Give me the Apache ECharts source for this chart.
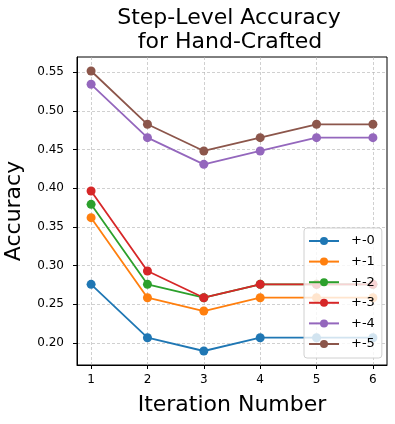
<!DOCTYPE html>
<html>
<head>
<meta charset="utf-8">
<script src="https://cdn.jsdelivr.net/npm/echarts@6/dist/echarts.min.js"></script>
<style>
  html, body { margin: 0; padding: 0; background: #fff; }
  #chart { width: 395px; height: 424px; }
</style>
</head>
<body>
<div id="chart"></div>
<script>
// iteration numbers
const iterations = [1, 2, 3, 4, 5, 6]
const xTicks = [1, 2, 3, 4, 5, 6]
const yTicks = [0.20, 0.25, 0.30, 0.35, 0.40, 0.45, 0.50, 0.55]

// accuracy per tolerance
const acc0 = [0.2759, 0.2069, 0.1897, 0.2069, 0.2069, 0.2069]
const acc1 = [0.3621, 0.2586, 0.2414, 0.2586, 0.2586, 0.2586]
const acc2 = [0.3793, 0.2759, 0.2586, 0.2759, 0.2759, 0.2759]
const acc3 = [0.3966, 0.2931, 0.2586, 0.2759, 0.2759, 0.2759]
const acc4 = [0.5345, 0.4655, 0.4310, 0.4483, 0.4655, 0.4655]
const acc5 = [0.5517, 0.4828, 0.4483, 0.4655, 0.4828, 0.4828]

const seriesNames = ['+-0', '+-1', '+-2', '+-3', '+-4', '+-5']
const seriesData = [acc0, acc1, acc2, acc3, acc4, acc5]
const colors = ['#1f77b4', '#ff7f0e', '#2ca02c', '#d62728', '#9467bd', '#8c564b']

const font = 'DejaVu Sans'
const chart = echarts.init(document.getElementById('chart'))

const gridLine = { show: true, lineStyle: { color: '#b0b0b0', type: [3, 2], width: 0.6 } }

const option = {
  animation: false,
  color: colors,
  textStyle: { fontFamily: font },
  grid: {
    left: 77, top: 57, right: 8, bottom: 59,
    outerBoundsMode: 'none',
    containLabel: false,
    show: true, borderColor: '#000', borderWidth: 1
  },
  graphic: [
    {
      type: 'text', x: 229, y: 18,
      style: { text: 'Step-Level Accuracy', font: '22px "DejaVu Sans"', fill: '#000', align: 'center', verticalAlign: 'middle' }
    },
    {
      type: 'text', x: 230, y: 42,
      style: { text: 'for Hand-Crafted', font: '22px "DejaVu Sans"', fill: '#000', align: 'center', verticalAlign: 'middle' }
    }
  ],
  legend: {
    orient: 'vertical',
    left: 304, top: 228,
    padding: [6.5, 7, 7.5, 4],
    itemWidth: 30, itemHeight: 10,
    itemGap: 7.6,
    backgroundColor: 'rgba(255,255,255,0.8)',
    borderColor: '#d0d0d0', borderWidth: 1, borderRadius: 3,
    textStyle: { fontFamily: font, fontSize: 13, color: '#000', padding: [0, 0, 0, 7] },
    data: seriesNames,
    z: 10
  },
  xAxis: {
    type: 'value',
    min: 0.75, max: 6.25,
    name: 'Iteration Number',
    nameLocation: 'middle',
    nameGap: 29,
    nameTextStyle: { fontFamily: font, fontSize: 22, color: '#000' },
    axisLine: { show: true, onZero: false, lineStyle: { color: '#000', width: 1 } },
    axisTick: { show: true, length: 4, customValues: xTicks, lineStyle: { color: '#000' } },
    axisLabel: { customValues: xTicks, margin: 9, fontSize: 12, color: '#000', fontFamily: font },
    splitLine: gridLine
  },
  yAxis: {
    type: 'value',
    min: 0.1716, max: 0.5698,
    name: 'Accuracy',
    nameLocation: 'middle',
    nameGap: 52,
    nameTextStyle: { fontFamily: font, fontSize: 22, color: '#000' },
    axisLine: { show: true, onZero: false, lineStyle: { color: '#000', width: 1 } },
    axisTick: { show: true, length: 4, customValues: yTicks, lineStyle: { color: '#000' } },
    axisLabel: {
      customValues: yTicks, margin: 13, fontSize: 12, color: '#000', fontFamily: font,
      formatter: v => v.toFixed(2)
    },
    splitLine: gridLine
  },
  series: seriesNames.map((name, i) => ({
    name: name,
    type: 'line',
    data: iterations.map((x, j) => [x, seriesData[i][j]]),
    symbol: 'circle',
    symbolSize: 9,
    lineStyle: { width: 1.8 },
    itemStyle: { color: colors[i] },
    z: 2 + i
  }))
}

chart.setOption(option)
</script>
</body>
</html>
